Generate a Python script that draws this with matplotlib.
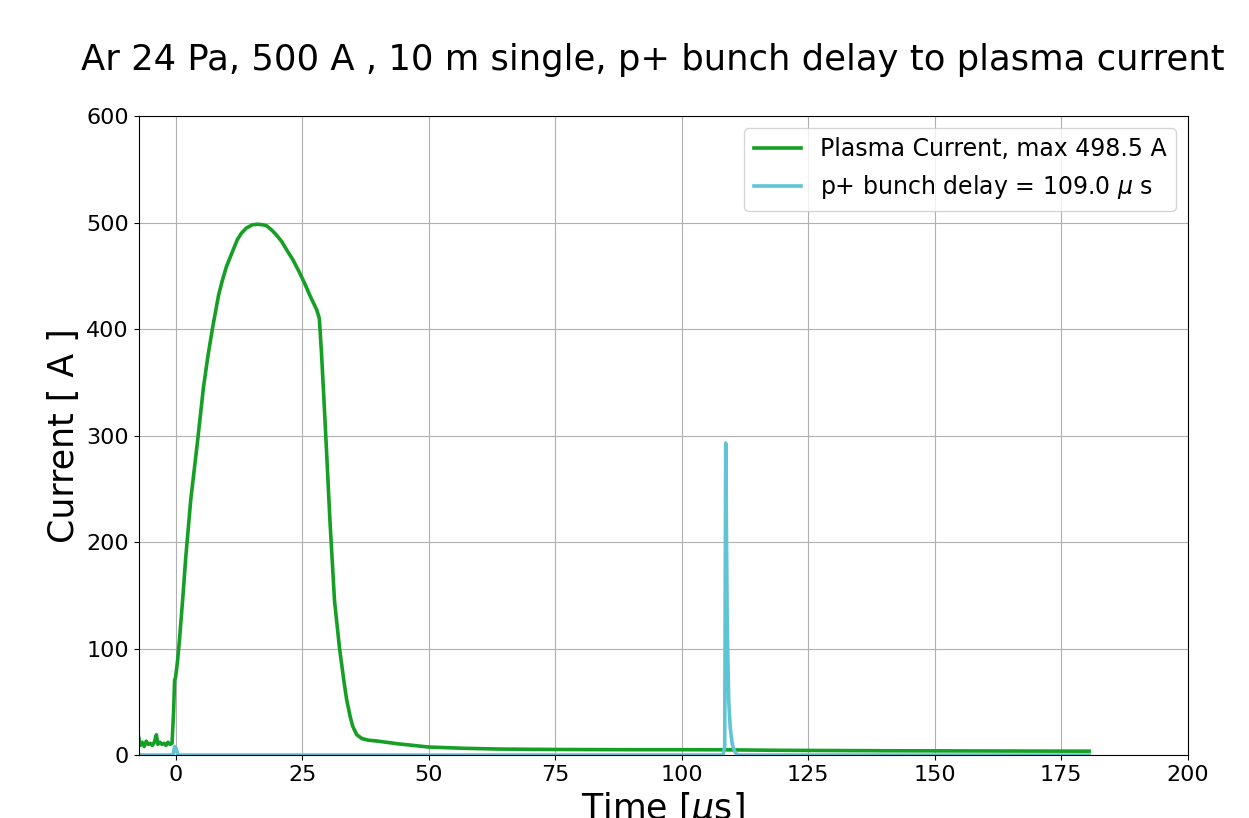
import numpy as np
import matplotlib
matplotlib.use('Agg')
import matplotlib.pyplot as plt

# plasma current trace (time in us, current in A)
t_plasma = [-7.3, -7.0, -6.6, -6.2, -5.8, -5.4, -5.0, -4.6, -4.2, -3.8, -3.5, -3.1,
            -2.7, -2.3, -1.9, -1.5, -1.1, -0.7, -0.4, -0.2, 0.0, 0.4, 0.8, 1.4,
            2.0, 3.0, 4.3, 5.5, 6.4, 7.3, 8.5, 9.2, 10.0, 11.0, 12.2, 13.0, 14.0,
            15.2, 16.2, 17.2, 18.0, 19.0, 20.0, 21.0, 22.0, 23.2, 24.5, 25.5,
            26.5, 27.3, 27.9, 28.4, 28.8, 29.3, 29.8, 30.5, 31.4, 32.4,
            33.3, 33.8, 34.5, 35.0, 35.8, 36.8, 38.0, 40.0, 44.0, 50.0, 57.0,
            64.0, 75.0, 90.0, 100.0, 108.0, 110.0, 115.0, 120.0, 130.0, 140.0,
            150.0, 160.0, 170.0, 180.5]
i_plasma = [17, 9, 12, 8, 13, 10, 11, 9, 12, 19, 10, 12,
            10, 11, 9, 12, 10, 11, 40, 70, 73, 89, 110, 146,
            185, 240, 293, 345, 375, 401, 432, 445, 458, 470, 484, 490, 495,
            498, 498.5, 498, 497, 493, 488, 482, 474, 465, 453, 443,
            432, 424, 418, 410, 380, 335, 288, 220, 145, 100,
            68, 52, 36, 27, 19, 15.5, 14, 13, 10.5, 7.5, 6.3,
            5.6, 5.2, 5.0, 5.0, 4.9, 4.8, 4.6, 4.4, 4.2, 4.0,
            3.9, 3.8, 3.7, 3.6]

# proton bunch monitor signal
t_bunch = [-7.3, -0.5, -0.2, 0.1, 0.5, 108.2, 108.5, 108.7, 109.0, 109.3,
           109.6, 110.0, 110.5, 111.0, 180.5]
i_bunch = [0, 0, 8, 6, 0, 0, 8, 293, 120, 50, 25, 10, 3, 0, 0]

max_current = 498.5
bunch_delay = 109.0

fig = plt.figure(figsize=(12.49, 8.18), dpi=100)
ax = fig.add_axes([0.111, 0.077, 0.84, 0.781])

ax.plot(t_plasma, i_plasma, color='#15a025', lw=2.6,
        label='Plasma Current, max %.1f A' % max_current)
ax.plot(t_bunch, i_bunch, color='#5fc4d6', lw=2.6,
        label='p+ bunch delay = %.1f $\\mu$ s' % bunch_delay)

ax.set_xlim(-7.3, 200)
ax.set_ylim(0, 600)
ax.set_xticks(np.arange(0, 201, 25))
ax.set_yticks(np.arange(0, 601, 100))
ax.tick_params(labelsize=16)
ax.grid(True)

ax.set_xlabel('Time [$\\mu$s]', fontsize=25)
ax.set_ylabel('Current [ A ]', fontsize=25)
ax.legend(loc='upper right', fontsize=17)

fig.suptitle('Ar 24 Pa, 500 A , 10 m single, p+ bunch delay to plasma current',
             x=0.523, y=0.948, fontsize=25.5)

fig.savefig('out.png', dpi=100)
